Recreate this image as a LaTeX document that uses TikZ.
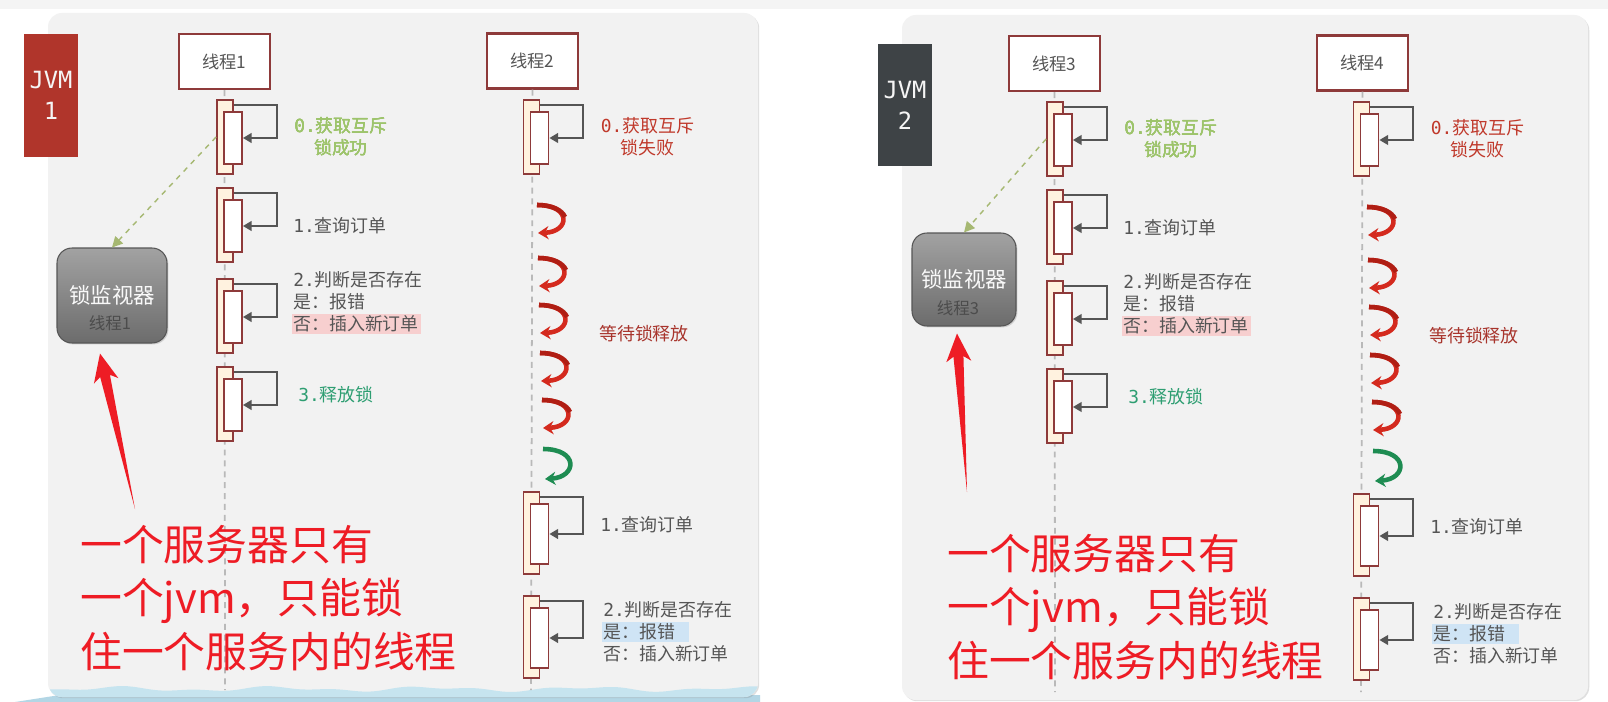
\documentclass[tikz,border=0pt]{standalone}
\usepackage{fontspec}
\setmainfont{Noto Sans CJK SC}
\newfontfamily\mono{DejaVu Sans Mono}
\usepackage{xcolor}
\usepackage{tikz}
\usetikzlibrary{arrows.meta,shadows,calc}

\definecolor{topband}{HTML}{F4F4F4}
\definecolor{panelbg}{HTML}{F2F2F2}
\definecolor{wave}{HTML}{C6E4EF}
\definecolor{wavedark}{HTML}{B3D6E5}
\definecolor{jvmred}{HTML}{B0352B}
\definecolor{jvmgray}{HTML}{3E4346}
\definecolor{barline}{HTML}{8E3A3A}
\definecolor{barfill}{HTML}{FFF2DF}
\definecolor{loopgray}{HTML}{555555}
\definecolor{txtgray}{HTML}{555555}
\definecolor{okgreen}{HTML}{9DC46B}
\definecolor{failred}{HTML}{C0392B}
\definecolor{waitred}{HTML}{A8352D}
\definecolor{relgreen}{HTML}{2E9E72}
\definecolor{hlpink}{HTML}{F7CFCF}
\definecolor{hlblue}{HTML}{CFE4F5}
\definecolor{notered}{HTML}{EE1C25}
\definecolor{dashgreen}{HTML}{A6B872}
\definecolor{curlred}{HTML}{D42A1E}
\definecolor{curldark}{HTML}{B01E14}
\definecolor{curlgreen}{HTML}{1E8C52}
\definecolor{monlight}{HTML}{A2A2A2}
\definecolor{mondark}{HTML}{6C6C6C}

\newcommand{\seqno}[1]{{\mono #1}}
\newcommand{\hlbox}[2]{{\setlength{\fboxsep}{1pt}\hspace*{-1pt}\colorbox{#1}{#2}}}

\tikzset{
    panel/.style={fill=panelbg, rounded corners=0.28cm,
        drop shadow={opacity=0.25, shadow xshift=0.7pt, shadow yshift=-0.7pt}},
    jvmbox/.style={minimum width=1.08cm, minimum height=2.46cm, inner sep=0pt,
        font=\mono\fontsize{13.5}{17.5}\selectfont, text=white!92!gray, align=center},
    head/.style={draw=barline, line width=1.2pt, fill=white, minimum width=1.82cm,
        minimum height=1.1cm, font=\fontsize{9.8}{11}\selectfont, text=txtgray,
        drop shadow={opacity=0.12, shadow xshift=0.5pt, shadow yshift=-0.5pt}},
    life/.style={gray!55, line width=1pt, dash pattern=on 3.4pt off 2.8pt},
    outerbar/.style={draw=barline, fill=barfill, line width=1pt, minimum width=0.32cm, inner sep=0pt},
    innerbar/.style={draw=barline, fill=white, line width=1pt, minimum width=0.36cm, inner sep=0pt},
    selfcall/.style={draw=loopgray, line width=1.2pt, -{Triangle[length=5pt,width=5.5pt]}},
    lbl/.style={font=\fontsize{10.2}{12.4}\selectfont, inner sep=0pt, text=txtgray},
    monitor/.style={rounded corners=0.3cm, draw=mondark!80!black, line width=0.6pt,
        top color=monlight, bottom color=mondark, text=white!95!gray,
        font=\fontsize{12.2}{14}\selectfont,
        drop shadow={opacity=0.3, shadow xshift=0.8pt, shadow yshift=-0.8pt}},
    monsub/.style={font=\fontsize{9.4}{11}\selectfont, text=black!70, inner sep=0pt},
    waitarrow/.style={line width=2.6pt, -{Stealth[length=6pt,width=7.5pt]}},
    dashlink/.style={dashgreen, dashed, line width=0.8pt, -{Triangle[length=6pt,width=6pt]}},
    note/.style={text=notered, font=\fontsize{23.8}{30.6}\selectfont, align=left,
        anchor=west, inner sep=0pt}
}

% activation bar with self call: name, x, top, height
\newcommand{\actbar}[4]{%
    \node[outerbar, minimum height=#4*0.02cm] (#1o) at (#2,#3+#4/2) {};
    \node[innerbar, minimum height=#4*0.02cm-0.44cm] (#1i) at (#2+8,#3+#4/2+1) {};
    \draw[selfcall] ([yshift=-0.12cm]#1o.north east) -- ++(43,0) |- (#1i.east);
}

% big tapered arrow: tip, tail
\newcommand{\bigarrow}[2]{%
    \coordinate (#1c) at ($(#1)!0.56cm!(#2)$);
    \coordinate (#1b) at ($(#1)!0.46cm!(#2)$);
    \fill[notered] (#1) -- ($(#1c)!0.25cm!90:(#2)$) -- ($(#1b)!0.1cm!90:(#2)$) -- (#2)
        -- ($(#1b)!0.1cm!-90:(#2)$) -- ($(#1c)!0.25cm!-90:(#2)$) -- cycle;
}

\begin{document}
\begin{tikzpicture}[x=0.02cm, y=-0.02cm]
    \useasboundingbox (0,0) rectangle (1608,702);
    \fill[white] (0,0) rectangle (1608,702);
    \fill[topband] (0,0) rectangle (1608,9);

    % Strip under left panel
    \fill[wavedark] (15,702) -- (60,695) -- (760,695) -- (760,702) -- cycle;

    % Panels
    \fill[panel] (48,13) rectangle (758,697);
    \fill[panel] (902,15) rectangle (1588,700);

    % Wave at bottom of left panel
    \begin{scope}
        \clip[rounded corners=0.28cm] (48,13) rectangle (758,697);
        \fill[wave] (48,700) -- plot[domain=48:758, samples=90, smooth]
            (\x,{689+1.8*sin(2.3*\x)+1.2*sin(5.1*\x)}) -- (758,700) -- cycle;
    \end{scope}

    % JVM labels
    \node[jvmbox, fill=jvmred] (jvm1) at (51,95.5) {JVM\\1};
    \node[jvmbox, fill=jvmgray] (jvm2) at (905,105) {JVM\\2};

    % Lock monitors
    \node[monitor, minimum width=2.2cm, minimum height=1.9cm] (mon1) at (112,295.5) {锁监视器};
    \node[monsub] (mon1t) at ($(mon1)+(-2,28)$) {线程1};
    \node[monitor, minimum width=2.08cm, minimum height=1.86cm] (mon2) at (964,279.5) {锁监视器};
    \node[monsub] (mon2t) at ($(mon2)+(-6,29)$) {线程3};

    % Sequence of both JVMs
    \foreach \dx/\dy/\tna/\tnb/\side in {0/0/1/2/l, 830/2/3/4/r} {
        \begin{scope}[shift={(\dx,\dy)}]
            % Thread headers and lifelines
            \node[head] (h\tna) at (224.5,61.5) {线程\tna};
            \node[head] (h\tnb) at (532.5,61) {线程\tnb};
            \coordinate (e\tna) at (225,690);
            \coordinate (e\tnb) at (531,690);
            \draw[life] (h\tna.south) -- (e\tna);
            \draw[life] (h\tnb.south) -- (e\tnb);

            % First thread: gets the lock
            \foreach \n/\y in {0/100, 1/188, 2/279, 3/367}
                \actbar{\side a\n}{225}{\y}{74}
            \node[lbl, text=okgreen, align=center] (\side a0t) at (341,137) {\seqno{0.}获取互斥\\锁成功};
            \node[lbl, anchor=west] (\side a1t) at (293,226) {\seqno{1.}查询订单};
            \node[lbl, anchor=west, align=left, font=\fontsize{10.2}{12.5}\selectfont] (\side a2t) at (293,303)
                {\seqno{2.}判断是否存在\\是：报错\\\hlbox{hlpink}{否：插入新订单}};
            \node[lbl, anchor=west, text=relgreen] (\side a3t) at (298,395) {\seqno{3.}释放锁};

            % Second thread: waits for the lock
            \actbar{\side b0}{531.5}{100}{74}
            \node[lbl, text=failred, align=center] (\side b0t) at (647.5,137) {\seqno{0.}获取互斥\\锁失败};
            \foreach \y/\s in {220/0, 273/1, 320/2, 368/3, 415/5} {
                \draw[waitarrow, curlred] (537+\s,\y-15) .. controls (572+\s,\y-15) and (570+\s,\y+12) .. (538+\s,\y+13);
                \draw[curldark, line width=2.6pt] (537+\s,\y-15) .. controls (552+\s,\y-15) and (562+\s,\y-10) .. (565+\s,\y-3);
            }
            \draw[waitarrow, curlgreen] (543,449) .. controls (579,449) and (577,477) .. (545,479);
            \node[lbl, text=waitred] (\side wt) at (644,334) {等待锁释放};

            \actbar{\side b1}{531.5}{492}{82}
            \actbar{\side b2}{531.5}{596}{82}
            \node[lbl, anchor=west] (\side b1t) at (600,525) {\seqno{1.}查询订单};
            \node[lbl, anchor=west, align=left, font=\fontsize{10.2}{12.5}\selectfont] (\side b2t) at (603,632)
                {\seqno{2.}判断是否存在\\\hlbox{hlblue}{是：报错\hspace{7pt}}\\否：插入新订单};
        \end{scope}
    }

    % Lock taken by the first thread
    \draw[dashlink] (la0o.west) -- (mon1.north);
    \draw[dashlink] (ra0o.west) -- (mon2.north);

    % Red notes
    \coordinate (ar1tip) at ($(mon1.south)+(-12,10)$);
    \coordinate (ar1tail) at (135,509);
    \bigarrow{ar1tip}{ar1tail}
    \coordinate (ar2tip) at ($(mon2.south)+(-7,7)$);
    \coordinate (ar2tail) at (967,492);
    \bigarrow{ar2tip}{ar2tail}

    \node[note] (note1) at (80,598) {一个服务器只有\\一个jvm，只能锁\\住一个服务内的线程};
    \node[note] (note2) at (947,607) {一个服务器只有\\一个jvm，只能锁\\住一个服务内的线程};
\end{tikzpicture}
\end{document}
